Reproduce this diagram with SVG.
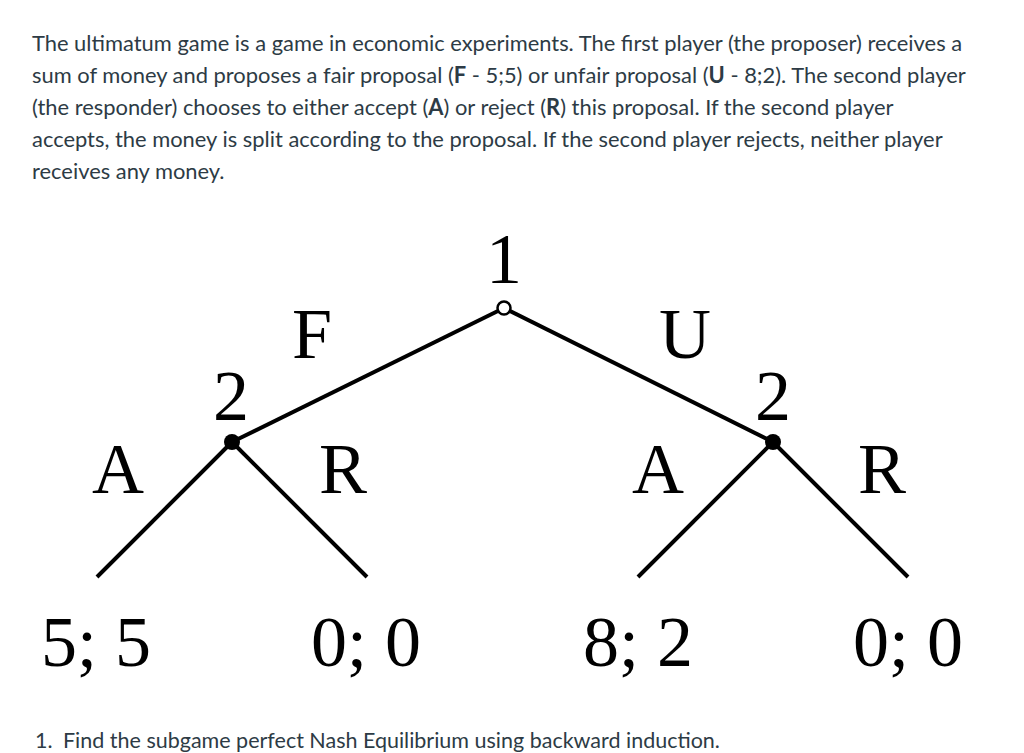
<svg xmlns="http://www.w3.org/2000/svg" width="1024" height="753" viewBox="0 0 1024 753">
<style>
.p{font-family:Lato,"Liberation Sans",sans-serif;font-size:21.9px;fill:#2d3b45}
.q{font-size:21.5px}
.b{font-weight:bold}
.t{font-family:"Liberation Serif","Times New Roman",serif;font-size:72px;fill:#000}
.e{stroke:#000;stroke-width:4;fill:none;stroke-linecap:butt}
</style>
<rect width="1024" height="753" fill="#fff"/>
<g id="intro">
<text class="p" x="32" y="51">The ultimatum game is a game in economic experiments. The first player (the proposer) receives a</text>
<text class="p" x="32" y="83">sum of money and proposes a fair proposal (<tspan class="b">F</tspan> - 5;5) or unfair proposal (<tspan class="b">U</tspan> - 8;2). The second player</text>
<text class="p" x="32" y="115">(the responder) chooses to either accept (<tspan class="b">A</tspan>) or reject (<tspan class="b">R</tspan>) this proposal. If the second player</text>
<text class="p" x="32" y="147">accepts, the money is split according to the proposal. If the second player rejects, neither player</text>
<text class="p" x="32" y="179">receives any money.</text>
</g>
<g id="connectors">
<line class="e" x1="504" y1="308" x2="232" y2="442"/>
<line class="e" x1="504" y1="308" x2="773" y2="442"/>
<line class="e" x1="232" y1="442" x2="97" y2="577"/>
<line class="e" x1="232" y1="442" x2="367" y2="577"/>
<line class="e" x1="773" y1="442" x2="638" y2="577"/>
<line class="e" x1="773" y1="442" x2="908" y2="577"/>
</g>
<g id="root">
<circle cx="504" cy="308" r="6.5" fill="#fff" stroke="#000" stroke-width="2.5"/>
<text class="t" x="504" y="283" text-anchor="middle">1</text>
</g>
<g id="node-left">
<circle cx="232" cy="442" r="8" fill="#000"/>
<text class="t" x="231" y="420" text-anchor="middle">2</text>
</g>
<g id="node-right">
<circle cx="773" cy="442" r="8" fill="#000"/>
<text class="t" x="773" y="420" text-anchor="middle">2</text>
</g>
<g id="labels">
<text class="t" x="312" y="358" text-anchor="middle">F</text>
<text class="t" x="685" y="358" text-anchor="middle">U</text>
<text class="t" x="118" y="493" text-anchor="middle">A</text>
<text class="t" x="343" y="493" text-anchor="middle">R</text>
<text class="t" x="658" y="493" text-anchor="middle">A</text>
<text class="t" x="882" y="493" text-anchor="middle">R</text>
</g>
<g id="payoffs">
<text class="t" x="96" y="666" text-anchor="middle">5; 5</text>
<text class="t" x="366" y="666" text-anchor="middle">0; 0</text>
<text class="t" x="638" y="666" text-anchor="middle">8; 2</text>
<text class="t" x="908" y="666" text-anchor="middle">0; 0</text>
</g>
<g id="question">
<text class="p q" x="35" y="748">1.<tspan x="63">Find the subgame perfect Nash Equilibrium using backward induction.</tspan></text>
</g>
</svg>
